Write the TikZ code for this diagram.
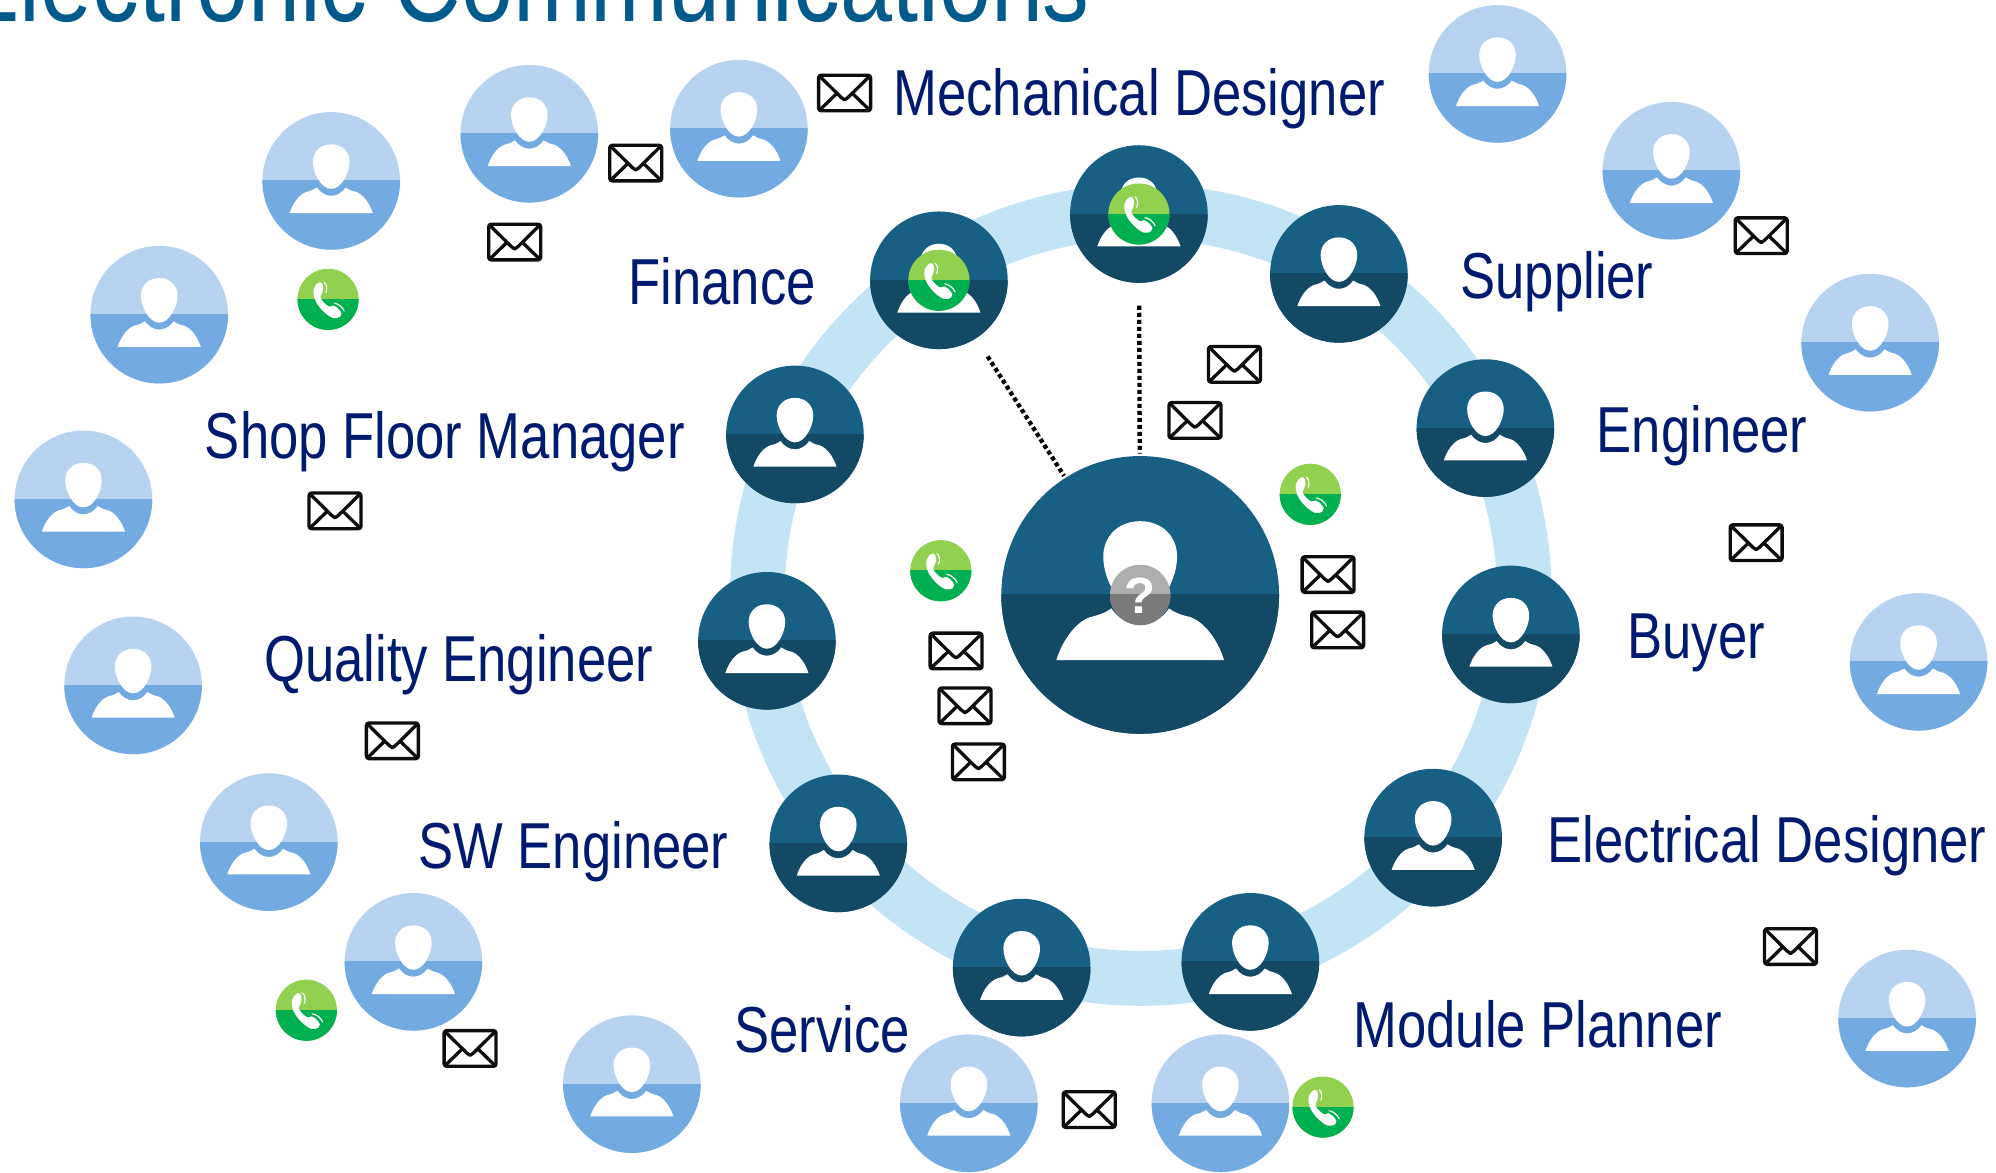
\documentclass[tikz,border=0pt]{standalone}
\usepackage{fontspec}
\setmainfont{Liberation Sans}
\newfontfamily\labfont[FakeStretch=0.81]{Liberation Sans}
\definecolor{darktop}{HTML}{186083}
\definecolor{darkbot}{HTML}{134964}
\definecolor{lighttop}{HTML}{B8D3F0}
\definecolor{lightbot}{HTML}{74AAE2}
\definecolor{ringc}{HTML}{C2E4F5}
\definecolor{phonetop}{HTML}{92D050}
\definecolor{phonebot}{HTML}{00B050}
\definecolor{qtop}{HTML}{ADADAD}
\definecolor{qbot}{HTML}{7A7A7A}
\definecolor{labc}{HTML}{001A70}
\definecolor{titlec}{HTML}{005A8C}
\tikzset{
  disc/.style={circle,inner sep=0pt,outer sep=0pt,minimum size=#1},
  labeltext/.style={anchor=base west,inner sep=0pt,text=labc,font=\labfont\fontsize{25.5}{30}\selectfont},
  titletext/.style={anchor=base east,inner sep=0pt,text=titlec,font=\labfont\fontsize{45.3}{50}\selectfont},
  dotline/.style={draw=black,line width=1.7pt,dash pattern=on 1.6pt off 1.15pt},
  envline/.style={draw=black!95,line width=1.3pt,line join=round}
}
% name, x, y, radius, top colour, bottom colour
\newcommand\mkperson[6]{%
  \node[disc=#4pt,fill=#5] (#1) at (#2,#3) {};
  \begin{scope}[shift={(#2,#3)},scale=#4]
    \begin{scope}
      \clip (-1.02,0) rectangle (1.02,1.02);
      \fill[#6] (0,0) circle[radius=1];
    \end{scope}
    \fill[white] (0,-.531) .. controls (.16,-.531) and (.266,-.42) .. (.266,-.275)
      .. controls (.266,-.12) and (.15,.116) .. (0,.116)
      .. controls (-.15,.116) and (-.266,-.12) .. (-.266,-.275)
      .. controls (-.266,-.42) and (-.16,-.531) .. (0,-.531) -- cycle;
    \fill[white] (-.604,.469) .. controls (-.56,.33) and (-.47,.2) .. (-.362,.16)
      .. controls (-.3,.145) and (-.25,.13) .. (-.208,.097)
      .. controls (-.16,.17) and (-.08,.217) .. (0,.217)
      .. controls (.08,.217) and (.16,.17) .. (.208,.097)
      .. controls (.25,.13) and (.3,.145) .. (.362,.16)
      .. controls (.47,.2) and (.56,.33) .. (.604,.469) -- cycle;
  \end{scope}
}
% name, x, y
\newcommand\mkphone[3]{%
  \node[disc=24pt,fill=phonetop] (#1) at (#2,#3) {};
  \begin{scope}[shift={(#2,#3)},scale=24]
    \begin{scope}
      \clip (-1.02,0) rectangle (1.02,1.02);
      \fill[phonebot] (0,0) circle[radius=1];
    \end{scope}
    \fill[white] (-.47,-.33) .. controls (-.42,-.46) and (-.35,-.54) .. (-.29,-.56)
      .. controls (-.23,-.56) and (-.18,-.54) .. (-.17,-.47)
      .. controls (-.15,-.34) and (-.16,-.25) .. (-.23,-.14)
      .. controls (-.27,-.08) and (-.25,-.04) .. (-.2,.03)
      .. controls (-.12,.13) and (-.04,.2) .. (.02,.23)
      .. controls (.08,.26) and (.12,.2) .. (.17,.2)
      .. controls (.29,.24) and (.39,.34) .. (.44,.46)
      .. controls (.44,.54) and (.38,.6) .. (.3,.61)
      .. controls (.2,.64) and (.12,.6) .. (.04,.55)
      .. controls (-.12,.44) and (-.26,.3) .. (-.36,.14)
      .. controls (-.44,.02) and (-.5,-.16) .. (-.47,-.33) -- cycle;
    \draw[white,line width=.45pt,line cap=round] (-.12,-.56) .. controls (-.04,-.48) and (-.02,-.36) .. (-.07,-.22);
    \draw[white,line width=.45pt,line cap=round] (.2,.12) .. controls (.33,.14) and (.46,.24) .. (.53,.38);
  \end{scope}
}
% x, y
\newcommand\mkenv[2]{%
  \begin{scope}[shift={(#1,#2)}]
    \draw[envline,rounded corners=1pt] (-20.4,-14) rectangle (20.4,14);
    \draw[envline] (-20,-13.6) -- (-2.6,3.6) -- (0,5.4) -- (2.6,3.6) -- (20,-13.6);
    \draw[envline] (-19.6,13.4) -- (-6,.2);
    \draw[envline] (19.6,13.4) -- (6,.2);
  \end{scope}
}
\begin{document}
\begin{tikzpicture}[x=.5pt,y=-.5pt]
\useasboundingbox (0,0) rectangle (1566.8,920);
\clip (0,0) rectangle (1566.8,920);
\fill[white] (0,0) rectangle (1566.8,920);
% ring
\draw[ringc,line width=21.5pt] (895.5,467) circle[radius=301];
% title
\node[titletext] (title) at (856,17) {Electronic Communications};
% ring people
\mkperson{mech}{894}{168}{54}{darktop}{darkbot}
\mkperson{finance}{737}{220}{54}{darktop}{darkbot}
\mkperson{supplier}{1051}{215}{54}{darktop}{darkbot}
\mkperson{shop}{624}{341}{54}{darktop}{darkbot}
\mkperson{engineer}{1166}{336}{54}{darktop}{darkbot}
\mkperson{quality}{602}{503}{54}{darktop}{darkbot}
\mkperson{buyer}{1186}{498}{54}{darktop}{darkbot}
\mkperson{sw}{658}{662}{54}{darktop}{darkbot}
\mkperson{electrical}{1125}{657.5}{54}{darktop}{darkbot}
\mkperson{service}{802}{759.5}{54}{darktop}{darkbot}
\mkperson{module}{981.5}{755}{54}{darktop}{darkbot}
% centre
\mkperson{center}{895}{467}{109}{darktop}{darkbot}
\node[disc=23.7pt,fill=qtop] (q) at (895,467) {};
\begin{scope}
  \clip (870,467) rectangle (920,495);
  \fill[qbot] (895,467) circle[radius=23.7];
\end{scope}
\node[inner sep=0pt,text=white,font=\bfseries\fontsize{20}{22}\selectfont] (qm) at (895,468) {?};
% outer people
\mkperson{o1}{1175.5}{58}{54}{lighttop}{lightbot}
\mkperson{o2}{1312}{134}{54}{lighttop}{lightbot}
\mkperson{o3}{1468}{269}{54}{lighttop}{lightbot}
\mkperson{o4}{1506}{519.5}{54}{lighttop}{lightbot}
\mkperson{o5}{1497}{799.5}{54}{lighttop}{lightbot}
\mkperson{o6}{958}{866}{54}{lighttop}{lightbot}
\mkperson{o7}{760.5}{866}{54}{lighttop}{lightbot}
\mkperson{o8}{496}{851}{54}{lighttop}{lightbot}
\mkperson{o9}{324.5}{755}{54}{lighttop}{lightbot}
\mkperson{o10}{211}{661}{54}{lighttop}{lightbot}
\mkperson{o11}{104.5}{538}{54}{lighttop}{lightbot}
\mkperson{o12}{65.5}{392}{54}{lighttop}{lightbot}
\mkperson{o13}{125}{247}{54}{lighttop}{lightbot}
\mkperson{o14}{260}{142}{54}{lighttop}{lightbot}
\mkperson{o15}{415.5}{105}{54}{lighttop}{lightbot}
\mkperson{o16}{580}{101}{54}{lighttop}{lightbot}
% phones
\mkphone{p1}{257.5}{235}
\mkphone{p2}{738.5}{448}
\mkphone{p3}{1028.5}{388}
\mkphone{p4}{240.5}{793}
\mkphone{p5}{1038.5}{869}
\mkphone{p6}{737}{220}
\mkphone{p7}{894}{168}
% envelopes
\mkenv{663}{73}
\mkenv{499}{128}
\mkenv{404}{190}
\mkenv{263}{401}
\mkenv{308}{581.5}
\mkenv{369}{823}
\mkenv{855}{871}
\mkenv{1405.5}{743}
\mkenv{1378.5}{426}
\mkenv{1382.5}{185}
\mkenv{969}{286}
\mkenv{938}{330}
\mkenv{1042.5}{451}
\mkenv{1050}{494.5}
\mkenv{750.5}{511}
\mkenv{757.5}{554}
\mkenv{768}{598}
% dotted links
\draw[dotline,shorten <=9pt,shorten >=1pt] (mech) -- (center);
\draw[dotline,shorten <=8.5pt,shorten >=1pt] (finance) -- (center);
% labels
\node[labeltext] (l1) at (701,91) {Mechanical Designer};
\node[labeltext] (l2) at (493,239) {Finance};
\node[labeltext] (l3) at (1146,234.5) {Supplier};
\node[labeltext] (l4) at (160.5,360) {Shop Floor Manager};
\node[labeltext] (l5) at (1253,355) {Engineer};
\node[labeltext] (l6) at (207,535) {Quality Engineer};
\node[labeltext] (l7) at (1277,517) {Buyer};
\node[labeltext] (l8) at (328,682) {SW Engineer};
\node[labeltext] (l9) at (1214.5,677) {Electrical Designer};
\node[labeltext] (l10) at (576,826) {Service};
\node[labeltext] (l11) at (1062,822) {Module Planner};
\end{tikzpicture}
\end{document}
